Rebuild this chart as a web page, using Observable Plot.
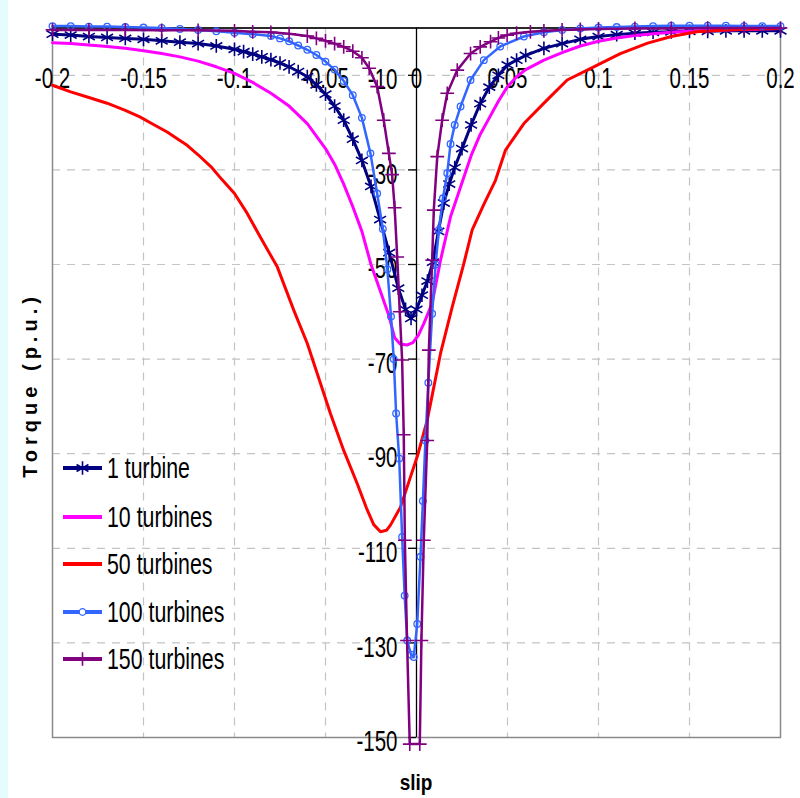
<!DOCTYPE html>
<html>
<head>
<meta charset="utf-8">
<script src="https://cdn.jsdelivr.net/npm/d3@7"></script>
<script src="https://cdn.jsdelivr.net/npm/@observablehq/plot@0.6"></script>
<style>
  html, body { margin: 0; padding: 0; background: #ffffff; }
  #wrap { position: relative; width: 800px; height: 798px; overflow: hidden; background: #ffffff; }
  #strip { position: absolute; left: 0; top: 0; width: 8px; height: 798px; background: #e4fcfd; }
  #chart { position: absolute; left: 0; top: 0; }
  #ytitle { position: absolute; left: 30px; top: 385px; transform: translate(-50%, -50%) rotate(-90deg);
            font: bold 20px "Liberation Sans", Arial, sans-serif; letter-spacing: 5px; white-space: nowrap; color: #000; }
  #xtitle { position: absolute; left: 416px; top: 783px; transform: translate(-50%, -50%) scaleY(1.15);
            font: bold 19px "Liberation Sans", Arial, sans-serif; color: #000; }
  .lrow { position: absolute; left: 63px; height: 30px; display: flex; align-items: center; }
  .lrow svg { width: 40px; height: 30px; display: block; flex: none; }
  .lrow span { margin-left: 4px; font: 26px "Liberation Sans", Arial, sans-serif; color: #000; display: inline-block;
               transform: scale(0.82, 1.15); transform-origin: left center; white-space: nowrap; }
</style>
</head>
<body>
<div id="wrap"><div id="strip"></div></div>
<script>
// ---- Data ----
const seriesNames = ["1 turbine", "10 turbines", "50 turbines", "100 turbines", "150 turbines"];
const seriesColors = ["#000080", "#ff00ff", "#ff0000", "#3366ff", "#800080"];

const slip1 = [-0.2,-0.19,-0.18,-0.17,-0.16,-0.15,-0.14,-0.13,-0.12,-0.11,-0.1,-0.095,-0.09,-0.085,-0.08,-0.075,-0.07,-0.065,-0.06,-0.055,-0.05,-0.045,-0.04,-0.035,-0.03,-0.025,-0.02,-0.015,-0.01,-0.006,-0.003,0,0.003,0.006,0.009,0.012,0.015,0.018,0.021,0.025,0.03,0.035,0.04,0.045,0.05,0.055,0.06,0.07,0.08,0.09,0.1,0.11,0.12,0.13,0.14,0.15,0.16,0.17,0.18,0.19,0.2];
const torque1 = [-1.3,-1.5,-1.8,-2.0,-2.2,-2.4,-2.7,-3.0,-3.3,-3.8,-4.5,-5.0,-5.5,-6.1,-6.7,-7.4,-8.2,-9.2,-10.3,-12,-14,-16.5,-19.5,-23.5,-28,-33.5,-40.5,-47.5,-55,-59.5,-61.4,-59.5,-56.5,-53.5,-49.5,-43,-37,-33,-29.5,-25.5,-20.5,-16,-12.5,-10,-7.8,-6.8,-5.8,-4.3,-3.3,-2.4,-1.8,-1.4,-1.1,-0.9,-0.8,-0.7,-0.7,-0.6,-0.6,-0.6,-0.6];

const slip10 = [-0.2,-0.19,-0.18,-0.17,-0.16,-0.15,-0.14,-0.13,-0.12,-0.11,-0.1,-0.09,-0.08,-0.07,-0.06,-0.05,-0.045,-0.04,-0.035,-0.03,-0.025,-0.02,-0.015,-0.012,-0.009,-0.005,-0.002,0.001,0.004,0.0086,0.0132,0.0187,0.0242,0.03,0.035,0.04,0.045,0.05,0.055,0.06,0.07,0.08,0.09,0.1,0.11,0.12,0.13,0.14,0.15,0.16,0.17,0.18,0.19,0.2];
const torque10 = [-3.1,-3.3,-3.6,-3.9,-4.3,-4.8,-5.4,-6.1,-7,-8.2,-9.6,-11.5,-13.8,-16.5,-20.2,-25.5,-28.8,-33,-37.8,-43,-50,-55.5,-61,-65.5,-66.8,-67,-66.5,-65,-62.5,-58.2,-49.1,-39.9,-33.6,-27,-22.5,-19,-15.5,-12.4,-10.3,-8.8,-6.8,-5.2,-3.8,-2.8,-2.1,-1.6,-1.2,-0.9,-0.7,-0.5,-0.4,-0.3,-0.2,-0.1];

const slip50 = [-0.2,-0.19,-0.18,-0.17,-0.16,-0.152,-0.145,-0.137,-0.13,-0.126,-0.12,-0.113,-0.107,-0.1,-0.093,-0.086,-0.0765,-0.0674,-0.06,-0.0546,-0.0473,-0.04,-0.0326,-0.0275,-0.0235,-0.0198,-0.0165,-0.0143,-0.0088,-0.0033,0.0005,0.0059,0.0132,0.0196,0.026,0.0306,0.037,0.0434,0.0489,0.059,0.0718,0.0828,0.0974,0.112,0.127,0.14,0.154,0.17,0.185,0.2];
const torque50 = [-12.1,-13.5,-14.7,-15.9,-17.4,-18.8,-20.3,-22,-23.8,-24.8,-26.8,-29.3,-32,-35,-39.2,-44.1,-50.5,-59.7,-66.7,-73,-81.5,-89.3,-96.3,-101.5,-105,-106.5,-106.2,-105.1,-101.3,-94.9,-90.5,-82.9,-68.8,-59,-49.8,-42.7,-37.3,-32.2,-25.8,-20.2,-15.2,-11,-8.2,-5.4,-3.2,-1.8,-0.8,-0.4,-0.2,-0.1];

const slip100 = [-0.2,-0.19,-0.18,-0.17,-0.16,-0.15,-0.14,-0.13,-0.12,-0.11,-0.1,-0.09,-0.08,-0.075,-0.07,-0.065,-0.06,-0.055,-0.05,-0.045,-0.04,-0.035,-0.03,-0.0253,-0.0216,-0.0185,-0.016,-0.014,-0.0125,-0.0112,-0.0095,-0.0079,-0.0065,-0.0051,-0.003,-0.0015,0.0004,0.0022,0.0035,0.0049,0.0065,0.0086,0.0105,0.0123,0.0145,0.0169,0.0187,0.021,0.0242,0.0297,0.037,0.046,0.059,0.07,0.08,0.09,0.1,0.11,0.12,0.13,0.14,0.15,0.16,0.17,0.18,0.19,0.2];
const torque100 = [0.4,0.4,0.3,0.3,0.2,0.1,0,-0.2,-0.4,-0.7,-1,-1.3,-1.7,-2.2,-2.8,-3.7,-4.6,-5.7,-7.1,-8.8,-11.2,-14.2,-19,-26.5,-35,-42.5,-51,-61,-70,-81.5,-91,-107.6,-120,-129.5,-132.5,-133,-126,-111.8,-100,-87.2,-75,-60.4,-50,-42.7,-36,-30.7,-24.5,-20.5,-16.6,-11,-6.8,-3.9,-1.8,-0.9,-0.4,-0.1,0.1,0.2,0.3,0.4,0.5,0.5,0.5,0.5,0.4,0.4,0.4];

const slip150 = [-0.2,-0.18,-0.16,-0.14,-0.12,-0.1,-0.09,-0.08,-0.07,-0.06,-0.055,-0.05,-0.045,-0.04,-0.035,-0.03,-0.026,-0.0216,-0.018,-0.0152,-0.0134,-0.012,-0.0106,-0.0092,-0.0079,-0.007,-0.0064,-0.0052,-0.0037,0.0018,0.0027,0.004,0.0059,0.0068,0.0086,0.0095,0.0114,0.0141,0.0169,0.0224,0.0297,0.035,0.0407,0.045,0.0498,0.055,0.0626,0.07,0.08,0.09,0.1,0.12,0.14,0.16,0.18,0.2];
const torque150 = [-0.4,-0.4,-0.4,-0.5,-0.5,-0.6,-0.8,-0.9,-1.2,-1.7,-2.2,-2.7,-3.3,-4,-4.9,-6.3,-8.5,-12.4,-19.5,-26.5,-31,-38,-48.4,-60,-70.2,-86,-108.3,-129.5,-151.4,-151.4,-129.5,-108.3,-87.2,-68.1,-49.1,-38.5,-27.2,-19.5,-13.8,-8.9,-5.4,-4,-2.9,-2.1,-1.5,-1.1,-0.8,-0.6,-0.4,-0.3,-0.2,-0.1,-0.1,0,0,0];

const xTicks = [-0.2, -0.15, -0.1, -0.05, 0, 0.05, 0.1, 0.15, 0.2];
const xTickLabels = ["-0.2", "-0.15", "-0.1", "-0.05", "0", "0.05", "0.1", "0.15", "0.2"];
const xGrid = [-0.15, -0.1, -0.05, 0.05, 0.1, 0.15];
const yTicks = [-10, -30, -50, -70, -90, -110, -130, -150];
const yTickLabels = ["-10", "-30", "-50", "-70", "-90", "-110", "-130", "-150"];
const yGrid = [-10, -30, -50, -70, -90, -110, -130];

// ---- Build tables ----
const slips = [slip1, slip10, slip50, slip100, slip150];
const torques = [torque1, torque10, torque50, torque100, torque150];
const tables = slips.map((s, k) => s.map((x, i) => ({slip: x, torque: torques[k][i]})));
const xLab = xTicks.map((v, i) => ({v, label: xTickLabels[i]}));
const yLab = yTicks.map((v, i) => ({v, label: yTickLabels[i]}));

const styleSpec = [
  {width: 3, symbol: "asterisk", r: 6.5, sw: 1.6},
  {width: 3, symbol: null},
  {width: 3, symbol: null},
  {width: 2.5, symbol: "circle", r: 3.3, sw: 1.3},
  {width: 2.5, symbol: "plus", r: 4.5, sw: 1.6}
];

const seriesMarks = [];
tables.forEach((t, k) => {
  seriesMarks.push(Plot.line(t, {x: "slip", y: "torque", stroke: seriesColors[k], strokeWidth: styleSpec[k].width, strokeLinejoin: "round"}));
  if (styleSpec[k].symbol) {
    seriesMarks.push(Plot.dot(t, {x: "slip", y: "torque", symbol: styleSpec[k].symbol, r: styleSpec[k].r,
      stroke: seriesColors[k], fill: "none", strokeWidth: styleSpec[k].sw}));
  }
});

const chart = Plot.plot({
  width: 800,
  height: 798,
  marginLeft: 52,
  marginRight: 20,
  marginTop: 27.5,
  marginBottom: 61,
  x: {domain: [-0.2, 0.2], axis: null},
  y: {domain: [-150, 0], axis: null},
  style: {background: "transparent", fontFamily: '"Liberation Sans", Arial, sans-serif'},
  marks: [
    Plot.ruleX(xGrid, {x: d => d, stroke: "#c4c4c4", strokeWidth: 1.2, strokeDasharray: "8,7"}),
    Plot.ruleY(yGrid, {y: d => d, stroke: "#c4c4c4", strokeWidth: 1.2, strokeDasharray: "8,7"}),
    Plot.frame({stroke: "#8a8a8a", strokeWidth: 1.5}),
    Plot.ruleX([0], {x: d => d, stroke: "#000", strokeWidth: 1.3}),
    Plot.ruleY([0], {y: d => d, stroke: "#000", strokeWidth: 1.5}),
    Plot.ruleY(yTicks, {y: d => d, x1: 0, x2: 0, insetLeft: -8, stroke: "#000", strokeWidth: 1.3}),
    Plot.text(yLab, {x: 0, y: "v", text: "label", textAnchor: "end", dx: -19, dy: 4, fontSize: 25, fill: "#000"}),
    Plot.text(xLab, {x: "v", y: 0, text: "label", dy: 50, fontSize: 25, fill: "#000"}),
    ...seriesMarks
  ]
});
chart.id = "chart";
document.getElementById("wrap").appendChild(chart);

// narrow and stretch the tick label glyphs like the reference's condensed font
d3.select(chart).selectAll("text").each(function() {
  const el = d3.select(this);
  const t = el.attr("transform");
  if (t) el.attr("transform", t + " scale(0.82,1.2)");
  else {
    const x = +el.attr("x") || 0, y = +el.attr("y") || 0;
    el.attr("x", null).attr("y", null).attr("transform", `translate(${x},${y}) scale(0.82,1.2)`);
  }
});

// ---- Axis titles ----
const wrap = document.getElementById("wrap");
const yt = document.createElement("div"); yt.id = "ytitle"; yt.textContent = "Torque (p.u.)"; wrap.appendChild(yt);
const xt = document.createElement("div"); xt.id = "xtitle"; xt.textContent = "slip"; wrap.appendChild(xt);

// ---- Legend ----
const legendTop = [468, 517, 564, 612, 659];
seriesNames.forEach((name, k) => {
  const row = document.createElement("div");
  row.className = "lrow";
  row.style.top = (legendTop[k] - 15) + "px";
  const svg = d3.create("svg").attr("viewBox", "0 0 40 30");
  svg.append("line").attr("x1", 0).attr("x2", 39).attr("y1", 15).attr("y2", 15)
    .attr("stroke", seriesColors[k]).attr("stroke-width", 4);
  const sp = styleSpec[k];
  if (sp.symbol) {
    const type = sp.symbol === "asterisk" ? d3.symbolAsterisk : sp.symbol === "plus" ? d3.symbolPlus : d3.symbolCircle;
    svg.append("path").attr("d", d3.symbol(type, Math.PI * sp.r * sp.r)())
      .attr("transform", "translate(19.5,15)")
      .attr("fill", sp.symbol === "circle" ? "#fff" : "none").attr("stroke", seriesColors[k]).attr("stroke-width", sp.sw);
  }
  row.appendChild(svg.node());
  const span = document.createElement("span");
  span.textContent = name;
  row.appendChild(span);
  wrap.appendChild(row);
});
</script>
</body>
</html>
